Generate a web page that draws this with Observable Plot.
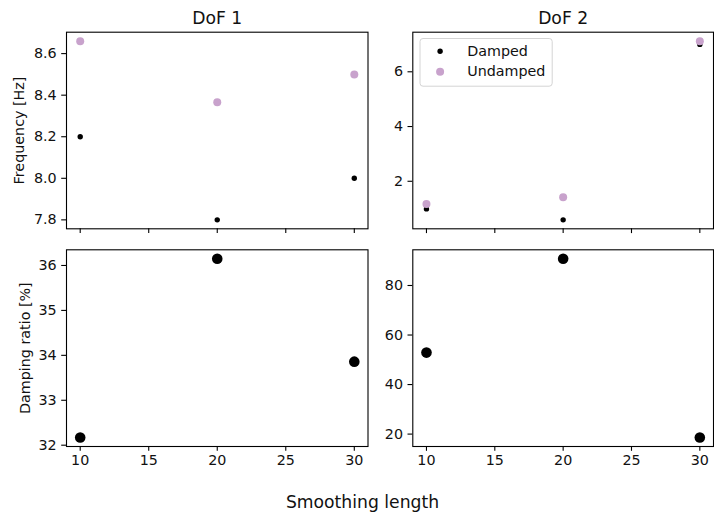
<!DOCTYPE html>
<html>
<head>
<meta charset="utf-8">
<script src="https://cdn.jsdelivr.net/npm/d3@7"></script>
<script src="https://cdn.jsdelivr.net/npm/@observablehq/plot@0.6"></script>
<style>
  body { margin: 0; background: #fff; }
  #chart { position: relative; width: 714px; height: 516px; }
  #chart svg { position: absolute; left: 0; top: 0; }
</style>
</head>
<body>
<div id="chart"></div>
<script>
// Smoothing lengths tested
const smoothing = [10, 20, 30];
const xTicks = [10, 15, 20, 25, 30];

// Identified frequencies [Hz]
const dof1Damped = [8.2, 7.8, 8.0];
const dof1Undamped = [8.66, 8.366, 8.5];
const dof2Damped = [0.99, 0.59, 7.0];
const dof2Undamped = [1.17, 1.42, 7.12];

// Identified damping ratios [%]
const dof1Damping = [32.17, 36.15, 33.86];
const dof2Damping = [52.9, 90.8, 18.6];

// Tick values per panel
const freqTicks1 = [7.8, 8.0, 8.2, 8.4, 8.6];
const freqTicks2 = [2, 4, 6];
const dampTicks1 = [32, 33, 34, 35, 36];
const dampTicks2 = [20, 40, 60, 80];

// Text
const titles = ["DoF 1", "DoF 2"];
const seriesNames = ["Damped", "Undamped"];
const yLabels = ["Frequency [Hz]", "Damping ratio [%]"];
const xLabel = "Smoothing length";

const W = 714, H = 516;
const FONT = "DejaVu Sans, sans-serif";
const SMALL = 14.3, LARGE = 17.2;
const undampedColor = "#c8a2cc";
const cols = [{left: 66, right: 367.5}, {left: 412.3, right: 713}];
const rows = [{top: 31.7, bottom: 228.3}, {top: 249.3, bottom: 446}];

// axis limits with 5% padding around the data
function padded(values) {
  const lo = d3.min(values), hi = d3.max(values), m = (hi - lo) * 0.05;
  return [lo - m, hi + m];
}
const pointsOf = (ys) => smoothing.map((x, i) => ({x, y: ys[i]}));

function panel({col, row, series, yTicks, yFormat, title, yLabel, yLabelDx, legend, bottomLabel}) {
  const c = cols[col], r = rows[row];
  const allY = series.flatMap(s => s.values);
  const marks = [
    Plot.frame({stroke: "black", strokeWidth: 1.1}),
    Plot.axisX({
      ticks: xTicks, tickSize: 4.8, tickPadding: 4, strokeWidth: 1.1,
      tickFormat: row === 0 ? () => "" : d => String(d), label: null, fill: "#111"
    }),
    Plot.axisY({
      ticks: yTicks, tickSize: 4.8, tickPadding: 5, strokeWidth: 1.1,
      tickFormat: yFormat, label: null, fill: "#111"
    })
  ];
  for (const s of series) {
    marks.push(Plot.dot(pointsOf(s.values), {x: "x", y: "y", r: s.r, fill: s.fill, stroke: "none"}));
  }
  if (title) {
    marks.push(Plot.text([title], {
      frameAnchor: "top", dy: -14.2, lineAnchor: "middle", fontSize: LARGE, fill: "#111"
    }));
  }
  if (yLabel) {
    marks.push(Plot.text([yLabel], {
      frameAnchor: "left", dx: yLabelDx, rotate: -90, lineAnchor: "middle",
      textAnchor: "middle", fontSize: SMALL, fill: "#111"
    }));
  }
  if (legend) {
    const box = {left: 419.5, right: 551.7, top: 38, bottom: 85.7};
    marks.push(Plot.frame({
      insetLeft: box.left - c.left, insetRight: c.right - box.right,
      insetTop: box.top - r.top, insetBottom: r.bottom - box.bottom,
      stroke: "#d4d4d4", strokeWidth: 1, fill: "white", fillOpacity: 0.8, rx: 3
    }));
    legend.forEach((s, i) => {
      marks.push(Plot.dot([s.name], {
        frameAnchor: "top-left", dx: 27.3, dy: 19 + 20.5 * i, r: s.r, fill: s.fill, stroke: "none"
      }));
      marks.push(Plot.text([s.name], {
        frameAnchor: "top-left", dx: 54.4, dy: 19.2 + 20.5 * i, textAnchor: "start",
        lineAnchor: "middle", fontSize: SMALL, fill: "#111"
      }));
    });
  }
  if (bottomLabel) {
    marks.push(Plot.text([bottomLabel], {
      frameAnchor: "bottom-right", dx: -5.5, dy: 55.8, textAnchor: "middle",
      lineAnchor: "middle", fontSize: LARGE, fill: "#111"
    }));
  }
  return Plot.plot({
    width: W, height: H,
    marginLeft: c.left, marginRight: W - c.right,
    marginTop: r.top, marginBottom: H - r.bottom,
    style: {fontFamily: FONT, fontSize: SMALL + "px", background: "transparent", overflow: "visible", color: "black"},
    x: {domain: [9, 31]},
    y: {domain: padded(allY)},
    marks
  });
}

const fmt1 = d => d.toFixed(1);
const fmt0 = d => String(d);
const damped = v => ({values: v, r: 2.7, fill: "black"});
const undamped = v => ({values: v, r: 4, fill: undampedColor});
const big = v => ({values: v, r: 5.3, fill: "black"});

const chart = document.getElementById("chart");
chart.append(
  panel({col: 0, row: 0, series: [damped(dof1Damped), undamped(dof1Undamped)],
    yTicks: freqTicks1, yFormat: fmt1, title: titles[0], yLabel: yLabels[0], yLabelDx: -47}),
  panel({col: 1, row: 0, series: [damped(dof2Damped), undamped(dof2Undamped)],
    yTicks: freqTicks2, yFormat: fmt0, title: titles[1],
    legend: [{name: seriesNames[0], r: 2.7, fill: "black"}, {name: seriesNames[1], r: 4, fill: undampedColor}]}),
  panel({col: 0, row: 1, series: [big(dof1Damping)],
    yTicks: dampTicks1, yFormat: fmt0, yLabel: yLabels[1], yLabelDx: -41, bottomLabel: xLabel}),
  panel({col: 1, row: 1, series: [big(dof2Damping)],
    yTicks: dampTicks2, yFormat: fmt0})
);
</script>
</body>
</html>
